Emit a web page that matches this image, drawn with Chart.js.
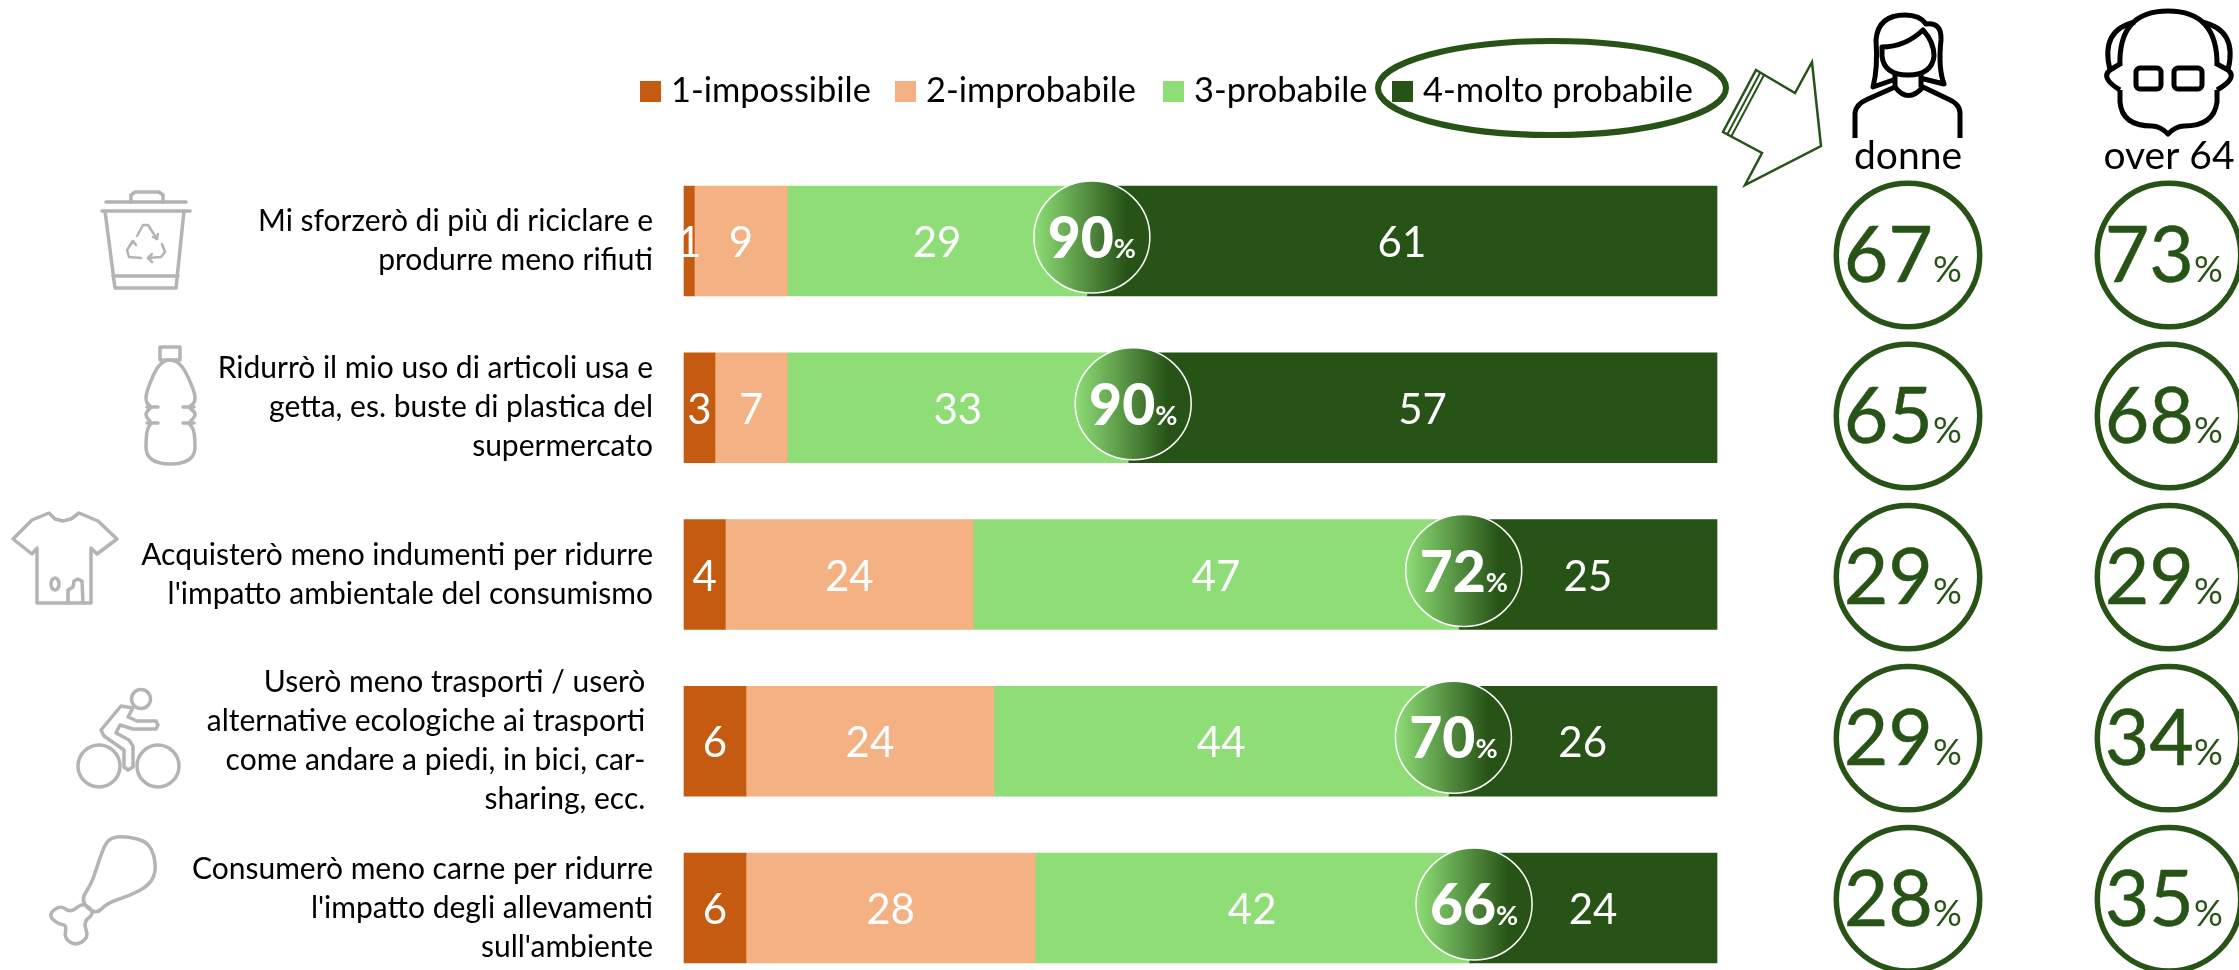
<!DOCTYPE html>
<html>
<head>
<meta charset="utf-8">
<title>Comportamenti</title>
<script src="https://cdn.jsdelivr.net/npm/chart.js@4"></script>
<style>
body{margin:0;background:#fff;overflow:hidden}
canvas{display:block}
</style>
</head>
<body>
<canvas id="graph" width="2239" height="970"></canvas>
<script>
const categories = [
    ['Mi sforzerò di più di riciclare e','produrre meno rifiuti'],
    ['Ridurrò il mio uso di articoli usa e','getta, es. buste di plastica del','supermercato'],
    ['Acquisterò meno indumenti per ridurre',"l'impatto ambientale del consumismo"],
    ['Userò meno trasporti / userò ','alternative ecologiche ai trasporti ','come andare a piedi, in bici, car- ','sharing, ecc. '],
    ['Consumerò meno carne per ridurre',"l'impatto degli allevamenti","sull'ambiente"]
];
const seriesNames = ['1-impossibile','2-improbabile','3-probabile','4-molto probabile'];
const impossibile = [1,3,4,6,6];
const improbabile = [9,7,24,24,28];
const probabile = [29,33,47,44,42];
const moltoProbabile = [61,57,25,26,24];
const totals = [90,90,72,70,66];
const donne = [67,65,29,29,28];
const over64 = [73,68,29,34,35];
const colors = ['#C55A11','#F4B183','#8EDD76','#275317'];

const FONT = 'Lato';
const DARK = '#275317';
const GREY = '#B4B4B4';

function path(ctx, pts, close){
    ctx.beginPath();
    pts.forEach((p,i) => i ? ctx.lineTo(p[0],p[1]) : ctx.moveTo(p[0],p[1]));
    if(close) ctx.closePath();
    ctx.stroke();
}

function smooth(ctx, pts){
    // closed outline, rounded through midpoints
    ctx.beginPath();
    const n = pts.length;
    ctx.moveTo((pts[n-1][0]+pts[0][0])/2,(pts[n-1][1]+pts[0][1])/2);
    for(let i=0;i<n;i++){
        const a = pts[i], b = pts[(i+1)%n];
        ctx.quadraticCurveTo(a[0],a[1],(a[0]+b[0])/2,(a[1]+b[1])/2);
    }
    ctx.closePath();
    ctx.stroke();
}

function drawIcons(ctx){
    ctx.save();
    ctx.strokeStyle = GREY;
    ctx.lineWidth = 3.5;
    ctx.lineJoin = 'round';
    ctx.lineCap = 'round';
    // bin
    path(ctx,[[106,202],[186,202]]);
    path(ctx,[[131,202],[131,195],[135,192],[159,192],[163,195],[163,202]]);
    path(ctx,[[102,211],[190,211]]);
    path(ctx,[[105,211],[115,288],[176,288],[184,211]]);
    path(ctx,[[113,276],[178,276]]);
    ctx.lineWidth = 2.5;
    path(ctx,[[137,236],[143,225],[148,225],[157,239]]);
    path(ctx,[[153,237],[157,239],[158,234]]);
    path(ctx,[[133,241],[127,250],[129,257],[141,258]]);
    path(ctx,[[130,245],[133,241],[136,245]]);
    path(ctx,[[148,258],[161,257],[165,252],[162,244]]);
    path(ctx,[[152,254],[148,258],[152,262]]);
    ctx.lineWidth = 3.5;
    // bottle
    path(ctx,[[160,347],[180,347],[180,360],[160,360]],true);
    smooth(ctx,[[160,360],[146,392],[146,403],[152,407],[146,412],[146,417],[152,423],[146,430],[146,464],[195,464],[195,430],[188,423],[195,417],[195,412],[188,407],[195,403],[195,392],[180,360]]);
    path(ctx,[[147,407],[158,407]]); path(ctx,[[183,407],[194,407]]);
    path(ctx,[[147,423],[158,423]]); path(ctx,[[183,423],[194,423]]);
    // t-shirt
    path(ctx,[[49,513],[55,519],[63,521],[71,519],[79,513],[98,521],[117,539],[97,554],[91,548],[91,603],[37,603],[37,548],[32,554],[13,539],[32,520]],true);
    ctx.beginPath(); ctx.ellipse(55,584,4,6,0,0,Math.PI*2); ctx.stroke();
    path(ctx,[[68,603],[68,590],[73,587],[74,581],[78,579],[82,581],[83,603]]);
    // cyclist
    ctx.beginPath(); ctx.arc(99,766,21,0,Math.PI*2); ctx.stroke();
    ctx.beginPath(); ctx.arc(158,766,21,0,Math.PI*2); ctx.stroke();
    ctx.beginPath(); ctx.arc(141,699,9.5,0,Math.PI*2); ctx.stroke();
    path(ctx,[[121,706],[133,708],[128,717],[137,721],[156,721],[158,725],[156,729],[133,729],[120,725],[116,733],[129,740],[133,746],[133,767],[128,770],[124,767],[124,750],[104,736],[101,730]],true);
    // chicken leg
    smooth(ctx,[[125,836],[150,842],[157,868],[150,885],[129,896],[107,903],[96,915],[80,901],[92,883],[100,857],[108,838]]);
    smooth(ctx,[[83,902],[71,913],[60,905],[48,915],[58,924],[67,925],[64,938],[76,946],[89,937],[83,922],[95,913]]);
    ctx.restore();
}

function drawHeader(ctx){
    const boxes = [640,895,1163,1392];
    ctx.save();
    ctx.textBaseline = 'alphabetic';
    ctx.textAlign = 'left';
    seriesNames.forEach((name,i) => {
        ctx.fillStyle = colors[i];
        ctx.fillRect(boxes[i],81,21,21);
        ctx.fillStyle = '#000';
        ctx.font = '34.4px '+FONT;
        ctx.fillText(name,boxes[i]+31,102);
    });
    // ellipse round the 4th legend item
    ctx.strokeStyle = DARK;
    ctx.lineWidth = 6;
    ctx.beginPath();
    ctx.ellipse(1552,88,174,47,0,0,Math.PI*2);
    ctx.stroke();
    // arrow
    ctx.lineWidth = 2.5;
    path(ctx,[[1756,70],[1795,93],[1812,62],[1821,146],[1745,185],[1762,153],[1723,132]],true);
    ctx.lineWidth = 2;
    path(ctx,[[1760,73],[1727,135]]);
    path(ctx,[[1764,75],[1731,137]]);
    // people
    ctx.strokeStyle = '#000';
    ctx.lineWidth = 5;
    ctx.lineJoin = 'round';
    ctx.lineCap = 'butt';
    // woman: shoulders and collar
    ctx.beginPath();
    ctx.moveTo(1855,138);
    ctx.lineTo(1855,113);
    ctx.quadraticCurveTo(1856,104,1868,99);
    ctx.lineTo(1895,87);
    ctx.quadraticCurveTo(1908,104,1923,87);
    ctx.lineTo(1948,99);
    ctx.quadraticCurveTo(1960,104,1960,113);
    ctx.lineTo(1960,138);
    ctx.stroke();
    // woman: face and fringe
    ctx.beginPath();
    ctx.moveTo(1882,47);
    ctx.quadraticCurveTo(1905,47,1923,30);
    ctx.quadraticCurveTo(1934,42,1934,56);
    ctx.quadraticCurveTo(1932,75,1908,75);
    ctx.quadraticCurveTo(1884,75,1882,56);
    ctx.closePath();
    ctx.moveTo(1895,74);
    ctx.lineTo(1895,87);
    ctx.moveTo(1921,74);
    ctx.lineTo(1921,87);
    ctx.stroke();
    // woman: hair
    ctx.beginPath();
    ctx.moveTo(1896,79);
    ctx.lineTo(1873,87);
    ctx.quadraticCurveTo(1878,68,1876,40);
    ctx.quadraticCurveTo(1878,15,1905,15);
    ctx.quadraticCurveTo(1920,15,1926,24);
    ctx.quadraticCurveTo(1942,22,1941,40);
    ctx.quadraticCurveTo(1938,68,1944,84);
    ctx.lineTo(1920,78);
    ctx.stroke();
    // old man: head
    ctx.beginPath();
    ctx.moveTo(2120,66);
    ctx.quadraticCurveTo(2118,11,2168,11);
    ctx.quadraticCurveTo(2218,11,2217,66);
    ctx.moveTo(2120,90);
    ctx.lineTo(2120,102);
    ctx.quadraticCurveTo(2122,126,2152,126);
    ctx.quadraticCurveTo(2160,126,2168,134);
    ctx.quadraticCurveTo(2176,126,2184,126);
    ctx.quadraticCurveTo(2214,126,2217,102);
    ctx.lineTo(2217,90);
    ctx.stroke();
    // old man: hair and ears
    ctx.beginPath();
    ctx.moveTo(2120,90);
    ctx.quadraticCurveTo(2100,78,2110,70);
    ctx.quadraticCurveTo(2100,30,2135,22);
    ctx.moveTo(2217,90);
    ctx.quadraticCurveTo(2238,78,2228,70);
    ctx.quadraticCurveTo(2238,30,2202,22);
    ctx.moveTo(2110,70);
    ctx.lineTo(2120,64);
    ctx.moveTo(2228,70);
    ctx.lineTo(2217,64);
    ctx.stroke();
    // glasses
    ctx.beginPath();
    ctx.roundRect(2136,68,25,21,4);
    ctx.roundRect(2174,68,28,21,4);
    ctx.stroke();
    ctx.fillStyle = '#000';
    ctx.font = '39px '+FONT;
    ctx.textAlign = 'center';
    ctx.fillText('donne',1908,169);
    ctx.fillText('over 64',2169,169);
    ctx.restore();
}

// values inside the bars, total badge, and the two columns of circles
const overlays = {
    id: 'overlays',
    afterDatasetsDraw(chart){
        const ctx = chart.ctx;
        const x = chart.scales.x;
        ctx.save();
        ctx.textBaseline = 'alphabetic';
        ctx.textAlign = 'center';
        ctx.fillStyle = '#fff';
        ctx.font = '42px '+FONT;
        chart.data.datasets.forEach((ds,i) => {
            chart.getDatasetMeta(i).data.forEach((bar,j) => {
                ctx.fillText(ds.data[j],bar.x-(bar.width/2),bar.y+16);
            });
        });
        // total badges sit on the 3/4 boundary
        totals.forEach((t,j) => {
            const bar = chart.getDatasetMeta(2).data[j];
            const cx = x.getPixelForValue(impossibile[j]+improbabile[j]+probabile[j])+5;
            const cy = bar.y-4;
            const g = ctx.createLinearGradient(cx-58,0,cx+58,0);
            g.addColorStop(0,colors[2]);
            g.addColorStop(0.8,DARK);
            g.addColorStop(1,DARK);
            ctx.beginPath();
            ctx.ellipse(cx,cy,58,56,0,0,Math.PI*2);
            ctx.fillStyle = g;
            ctx.fill();
            ctx.strokeStyle = '#fff';
            ctx.lineWidth = 1.5;
            ctx.stroke();
            ctx.fillStyle = '#fff';
            ctx.font = '900 57px '+FONT;
            const w1 = ctx.measureText(t).width;
            ctx.font = '700 27px '+FONT;
            const w2 = ctx.measureText('%').width;
            const left = cx-(w1+w2)/2;
            ctx.textAlign = 'left';
            ctx.font = '900 57px '+FONT;
            ctx.fillText(t,left,cy+21);
            ctx.font = '700 27px '+FONT;
            ctx.fillText('%',left+w1,cy+21);
            ctx.textAlign = 'center';
        });
        [[donne,1908],[over64,2169]].forEach(col => {
            col[0].forEach((v,j) => {
                const bar = chart.getDatasetMeta(0).data[j];
                const cy = bar.y+14-j*5.7;
                ctx.beginPath();
                ctx.arc(col[1],cy,71.7,0,Math.PI*2);
                ctx.strokeStyle = DARK;
                ctx.lineWidth = 5.5;
                ctx.stroke();
                ctx.fillStyle = DARK;
                ctx.lineWidth = 0.5;
                ctx.textAlign = 'right';
                ctx.font = '77px '+FONT;
                ctx.fillText(v,col[1]+25,cy+27);
                ctx.strokeText(v,col[1]+25,cy+27);
                ctx.textAlign = 'left';
                ctx.font = '36px '+FONT;
                ctx.fillText('%',col[1]+25,cy+27);
            });
        });
        ctx.restore();
        drawIcons(ctx);
        drawHeader(ctx);
    }
};

const values = [impossibile,improbabile,probabile,moltoProbabile];
new Chart(document.getElementById('graph').getContext('2d'),{
    type: 'bar',
    data: {
        labels: categories,
        datasets: seriesNames.map((name,i) => ({
            label: name,
            data: values[i],
            backgroundColor: colors[i],
            borderWidth: 0,
            barThickness: 110,
            clip: false
        }))
    },
    options: {
        indexAxis: 'y',
        responsive: false,
        animation: false,
        layout: { padding: { top: 241, bottom: 54, right: 522, left: 0 } },
        plugins: { legend: { display: false }, tooltip: { enabled: false } },
        scales: {
            x: { stacked: true, min: 0, max: 100, display: false },
            y: {
                stacked: true,
                offset: false,
                grid: { display: false },
                border: { display: false },
                afterFit(scale){ scale.width = 684; },
                ticks: {
                    autoSkip: false,
                    padding: 23,
                    color: '#000',
                    font: { family: FONT, size: 30, lineHeight: 1.3 }
                }
            }
        }
    },
    plugins: [overlays]
});
</script>
</body>
</html>
